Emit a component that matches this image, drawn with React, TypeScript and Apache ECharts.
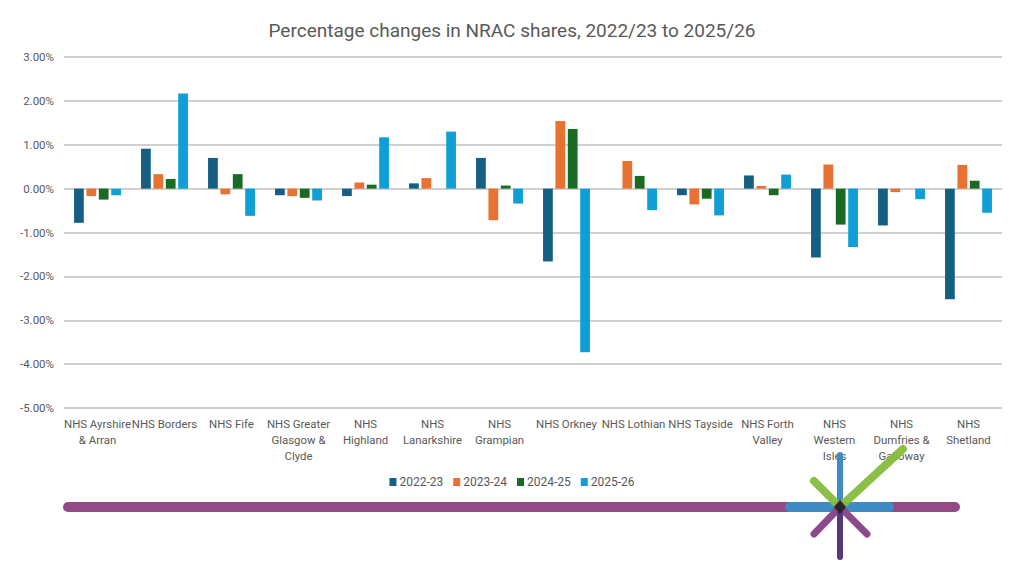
import React, { useEffect, useRef } from "react";
import * as echarts from "echarts";

const categories = [
  "NHS Ayrshire & Arran",
  "NHS Borders",
  "NHS Fife",
  "NHS Greater Glasgow & Clyde",
  "NHS Highland",
  "NHS Lanarkshire",
  "NHS Grampian",
  "NHS Orkney",
  "NHS Lothian",
  "NHS Tayside",
  "NHS Forth Valley",
  "NHS Western Isles",
  "NHS Dumfries & Galloway",
  "NHS Shetland",
];

const categoryLabels = [
  "NHS Ayrshire\n& Arran",
  "NHS Borders",
  "NHS Fife",
  "NHS Greater\nGlasgow &\nClyde",
  "NHS\nHighland",
  "NHS\nLanarkshire",
  "NHS\nGrampian",
  "NHS Orkney",
  "NHS Lothian",
  "NHS Tayside",
  "NHS Forth\nValley",
  "NHS\nWestern\nIsles",
  "NHS\nDumfries &\nGalloway",
  "NHS\nShetland",
];

const seriesNames = ["2022-23", "2023-24", "2024-25", "2025-26"];

// values in percent
const values2022 = [-0.78, 0.91, 0.70, -0.15, -0.17, 0.12, 0.70, -1.66, 0.0, -0.15, 0.30, -1.57, -0.84, -2.52];
const values2023 = [-0.17, 0.33, -0.13, -0.17, 0.14, 0.24, -0.72, 1.54, 0.63, -0.36, 0.06, 0.55, -0.08, 0.54];
const values2024 = [-0.25, 0.22, 0.33, -0.21, 0.09, 0.0, 0.07, 1.36, 0.29, -0.23, -0.15, -0.82, 0.0, 0.18];
const values2025 = [-0.15, 2.17, -0.62, -0.27, 1.17, 1.30, -0.34, -3.73, -0.49, -0.61, 0.32, -1.33, -0.24, -0.55];

const seriesColors = ["#156082", "#E97132", "#196B24", "#0F9ED5"];

const FONT = "Roboto, 'Liberation Sans', sans-serif";

export default function App() {
  const ref = useRef<HTMLDivElement>(null);

  useEffect(() => {
    if (!ref.current) return;
    const chart = echarts.init(ref.current, undefined, { renderer: "svg" });
    const data = [values2022, values2023, values2024, values2025];
    const cx = 840;
    const cy = 507;

    const option: any = {
      animation: false,
      backgroundColor: "#ffffff",
      textStyle: { fontFamily: FONT },
      title: {
        text: "Percentage changes in NRAC shares, 2022/23 to 2025/26",
        left: "center",
        top: 16,
        textStyle: { fontFamily: FONT, fontSize: 19, fontWeight: "normal", color: "#595959" },
      },
      legend: {
        data: seriesNames,
        left: "center",
        top: 471,
        itemWidth: 7,
        itemHeight: 8,
        itemGap: 10,
        icon: "rect",
        textStyle: { fontFamily: FONT, fontSize: 12, color: "#595959", padding: [0, 0, 0, -2] },
      },
      grid: { left: 64, right: 22, top: 57, bottom: 168, containLabel: false },
      xAxis: {
        type: "category",
        data: categories,
        axisLine: { show: false, onZero: false },
        axisTick: { show: false },
        axisLabel: {
          interval: 0,
          margin: 8,
          fontFamily: FONT,
          fontSize: 11.4,
          lineHeight: 16,
          color: "#595959",
          formatter: (_v: string, i: number) => categoryLabels[i],
        },
      },
      yAxis: {
        type: "value",
        min: -5,
        max: 3,
        interval: 1,
        axisLine: { show: false },
        axisTick: { show: false },
        axisLabel: {
          margin: 10,
          fontFamily: FONT,
          fontSize: 11.5,
          color: "#595959",
          formatter: (v: number) => v.toFixed(2) + "%",
        },
        splitLine: { lineStyle: { color: "#c0c0c0", width: 1.5 } },
      },
      series: seriesNames.map((name, i) => ({
        name,
        type: "bar",
        data: data[i],
        barGap: "27%",
        barCategoryGap: "30%",
        itemStyle: { color: seriesColors[i] },
      })),
      graphic: [
        {
          type: "line",
          shape: { x1: 68, y1: cy, x2: 955, y2: cy },
          style: { stroke: "#934A86", lineWidth: 10, lineCap: "round" },
          z: 10,
        },
        {
          type: "line",
          shape: { x1: 790, y1: cy, x2: 889, y2: cy },
          style: { stroke: "#3F8CC4", lineWidth: 10, lineCap: "round" },
          z: 11,
        },
        {
          type: "line",
          shape: { x1: cx, y1: cy, x2: cx, y2: 455 },
          style: { stroke: "#3F8CC4", lineWidth: 6, lineCap: "round" },
          z: 12,
        },
        {
          type: "line",
          shape: { x1: cx, y1: cy, x2: 903, y2: 449 },
          style: { stroke: "#86BC3C", lineWidth: 8, lineCap: "round", opacity: 0.95 },
          z: 13,
        },
        {
          type: "line",
          shape: { x1: cx, y1: cy, x2: 814, y2: 481 },
          style: { stroke: "#86BC3C", lineWidth: 8, lineCap: "round", opacity: 0.95 },
          z: 13,
        },
        {
          type: "line",
          shape: { x1: cx, y1: cy, x2: 814, y2: 534 },
          style: { stroke: "#8C4A8C", lineWidth: 7, lineCap: "round" },
          z: 13,
        },
        {
          type: "line",
          shape: { x1: cx, y1: cy, x2: 867, y2: 534 },
          style: { stroke: "#8C4A8C", lineWidth: 7, lineCap: "round" },
          z: 13,
        },
        {
          type: "line",
          shape: { x1: cx, y1: cy, x2: cx, y2: 557 },
          style: { stroke: "#57397A", lineWidth: 6, lineCap: "round" },
          z: 13,
        },
        {
          type: "polygon",
          shape: { points: [[cx, cy - 7], [cx + 6, cy], [cx, cy + 7], [cx - 6, cy]] },
          style: { fill: "#2E2230" },
          z: 14,
        },
      ],
    };

    chart.setOption(option);
    return () => chart.dispose();
  }, []);

  return (
    <div
      ref={ref}
      style={{ position: "absolute", left: 0, top: 0, width: 1024, height: 576 }}
    />
  );
}
